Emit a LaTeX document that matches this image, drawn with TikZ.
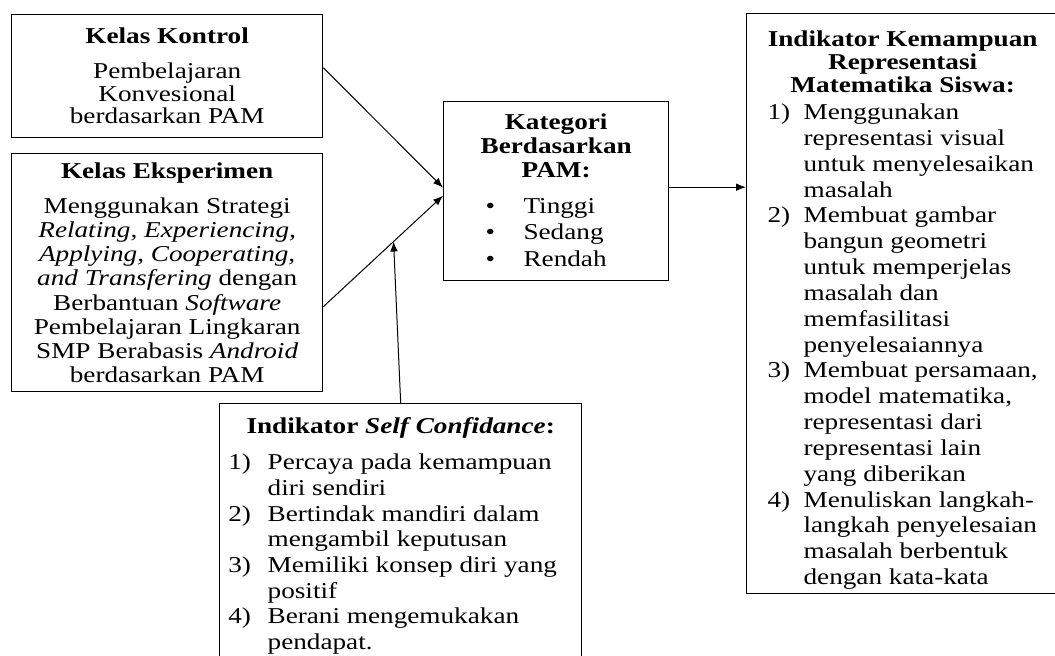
\documentclass[tikz,border=0pt]{standalone}
\usepackage{fontspec}
\setmainfont[FakeStretch=1.2]{Liberation Serif}
\usepackage{tikz}
\usetikzlibrary{calc, positioning, arrows.meta}

\begin{document}
\begin{tikzpicture}[x=0.6pt, y=-0.6pt,
        box/.style={draw, line width=0.8pt, rectangle, align=center, anchor=north west, inner sep=0pt},
        arrow/.style={-{Latex[length=6pt, width=4.6pt]}, line width=0.6pt}
    ]
    \useasboundingbox (0,0) rectangle (1055,655);

    % left side: the two classes
    \node[box, minimum width=186.6pt, minimum height=73.8pt, font=\fontsize{13.6}{13.5}\selectfont] (kontrol) at (11,14)
        {\textbf{Kelas Kontrol}\\[7.5pt] Pembelajaran\\ Konvesional\\ berdasarkan PAM};
    \node[box, minimum width=186.6pt, minimum height=142.8pt, font=\fontsize{13.6}{14.5}\selectfont] (eksperimen) at (11,153)
        {\textbf{Kelas Eksperimen}\\[6.5pt] Menggunakan Strategi\\ \textit{Relating, Experiencing,}\\ \textit{Applying, Cooperating,}\\ \textit{and Transfering} dengan\\ Berbantuan \textit{Software}\\ Pembelajaran Lingkaran\\ SMP Berabasis \textit{Android}\\ berdasarkan PAM};

    % middle: categories
    \node[box, minimum width=135pt, minimum height=107.4pt, font=\fontsize{13.6}{14.4}\selectfont] (kategori) at (443,101)
        {\rule{0pt}{13pt}\textbf{Kategori}\\ \textbf{Berdasarkan}\\ \textbf{PAM:}\\[6.8pt]
        {\fontsize{13.6}{15.9}\selectfont\begin{tabular}[t]{@{}l@{\hspace{17pt}}l@{}}
        \textbullet & Tinggi\\ \textbullet & Sedang\\ \textbullet & Rendah
        \end{tabular}}\hspace*{12pt}\mbox{}};

    % bottom: self confidance
    \node[box, minimum width=217.2pt, minimum height=160.8pt, font=\fontsize{13.6}{15.4}\selectfont] (selfconf) at (219,403)
        {\textbf{Indikator \textit{Self Confidance}:}\\[6.2pt]
        \begin{tabular}[t]{@{}l@{\hspace{10pt}}l@{}}
        1) & Percaya pada kemampuan\\ & diri sendiri\\
        2) & Bertindak mandiri dalam\\ & mengambil keputusan\\
        3) & Memiliki konsep diri yang\\ & positif\\
        4) & Berani mengemukakan\\ & pendapat.
        \end{tabular}\hspace*{9.6pt}\mbox{}};

    % right side: representation indicators
    \node[box, minimum width=187.2pt, minimum height=348pt, font=\fontsize{13.6}{13.8}\selectfont] (indikator) at (746,13)
        {\rule{0pt}{19pt}\textbf{Indikator Kemampuan}\\ \textbf{Representasi}\\ \textbf{Matematika Siswa:}\\[2.4pt]
        {\fontsize{13.6}{15.5}\selectfont\begin{tabular}[t]{@{}l@{\hspace{8pt}}l@{}}
        1) & Menggunakan\\ & representasi visual\\ & untuk menyelesaikan\\ & masalah\\
        2) & Membuat gambar\\ & bangun geometri\\ & untuk memperjelas\\ & masalah dan\\ & memfasilitasi\\ & penyelesaiannya\\
        3) & Membuat persamaan,\\ & model matematika,\\ & representasi dari\\ & representasi lain\\ & yang diberikan\\
        4) & Menuliskan langkah-\\ & langkah penyelesaian\\ & masalah berbentuk\\ & dengan kata-kata
        \end{tabular}}};

    % connections
    \coordinate (eks_out) at ([yshift=-20.4pt]eksperimen.east);
    \coordinate (kat_in) at ([yshift=-2.7pt]kategori.west);
    \coordinate (meet) at ($(eks_out)!0.587!(kat_in)$);

    \draw[arrow] ([yshift=5.1pt]kontrol.east) -- ([yshift=2.1pt]kategori.west);
    \draw[arrow] (eks_out) -- (kat_in);
    \draw[arrow] (selfconf.north) -- (meet);
    \draw[arrow] ([yshift=2.4pt]kategori.east) -- ([yshift=2.4pt]kategori.east -| indikator.west);

\end{tikzpicture}
\end{document}
